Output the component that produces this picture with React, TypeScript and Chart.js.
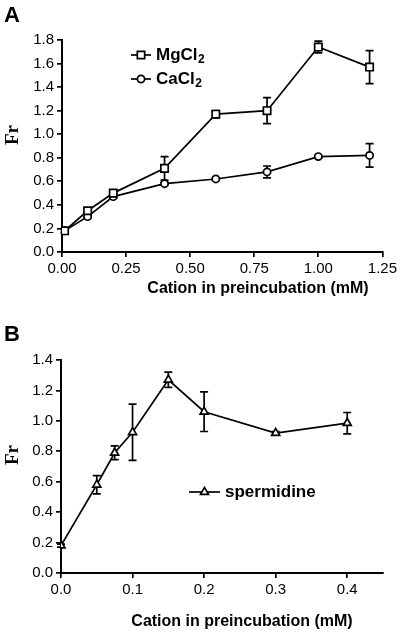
import React, { useEffect, useRef } from 'react';
import { Chart, registerables } from 'chart.js';

Chart.register(...registerables);

// Panel A
const mgX = [0.01, 0.1, 0.2, 0.4, 0.6, 0.8, 1.0, 1.2];
const mgY = [0.18, 0.35, 0.5, 0.71, 1.17, 1.2, 1.74, 1.57];
const mgErr = [0.02, 0.02, 0.02, 0.1, 0.03, 0.11, 0.05, 0.14];
const caX = [0.01, 0.1, 0.2, 0.4, 0.6, 0.8, 1.0, 1.2];
const caY = [0.18, 0.3, 0.47, 0.58, 0.62, 0.68, 0.81, 0.82];
const caErr = [0.01, 0.01, 0.01, 0.01, 0.01, 0.05, 0.01, 0.1];
const aXTicks = [0, 0.25, 0.5, 0.75, 1.0, 1.25];
const aYTicks = [0, 0.2, 0.4, 0.6, 0.8, 1.0, 1.2, 1.4, 1.6, 1.8];

// Panel B
const spX = [0, 0.05, 0.075, 0.1, 0.15, 0.2, 0.3, 0.4];
const spY = [0.18, 0.58, 0.79, 0.925, 1.27, 1.06, 0.92, 0.985];
const spErr = [0.01, 0.06, 0.045, 0.185, 0.05, 0.13, 0.01, 0.07];
const bXTicks = [0, 0.1, 0.2, 0.3, 0.4];
const bYTicks = [0, 0.2, 0.4, 0.6, 0.8, 1.0, 1.2, 1.4];

const SANS = '"Liberation Sans", Arial, sans-serif';
const SERIF = '"Liberation Serif", "Times New Roman", serif';
const LW = 1.7;

function toPoints(xs: number[], ys: number[]) {
  return xs.map((x, i) => ({ x, y: ys[i] }));
}

function drawMarker(ctx: CanvasRenderingContext2D, style: string, x: number, y: number, r: number) {
  ctx.beginPath();
  if (style === 'rect') {
    const s = Math.SQRT1_2 * r;
    ctx.rect(x - s, y - s, 2 * s, 2 * s);
  } else if (style === 'circle') {
    ctx.arc(x, y, r, 0, Math.PI * 2);
  } else if (style === 'triangle') {
    for (let k = 0; k < 3; k++) {
      const a = -Math.PI / 2 + (k * 2 * Math.PI) / 3;
      const px = x + Math.cos(a) * r;
      const py = y + Math.sin(a) * r;
      if (k === 0) ctx.moveTo(px, py);
      else ctx.lineTo(px, py);
    }
    ctx.closePath();
  }
  ctx.fillStyle = '#fff';
  ctx.fill();
  ctx.lineWidth = LW;
  ctx.strokeStyle = '#000';
  ctx.stroke();
}

const errorBarPlugin = {
  id: 'errorBars',
  beforeDatasetsDraw(chart: any) {
    const ctx = chart.ctx;
    const yScale = chart.scales.y;
    chart.data.datasets.forEach((ds: any, i: number) => {
      if (!ds.errors) return;
      const meta = chart.getDatasetMeta(i);
      meta.data.forEach((el: any, j: number) => {
        const v = ds.data[j].y;
        const e = ds.errors[j];
        const top = yScale.getPixelForValue(v + e);
        const bot = yScale.getPixelForValue(v - e);
        ctx.save();
        ctx.strokeStyle = '#000';
        ctx.lineWidth = LW;
        ctx.beginPath();
        ctx.moveTo(el.x, top);
        ctx.lineTo(el.x, bot);
        ctx.moveTo(el.x - 4, top);
        ctx.lineTo(el.x + 4, top);
        ctx.moveTo(el.x - 4, bot);
        ctx.lineTo(el.x + 4, bot);
        ctx.stroke();
        ctx.restore();
      });
    });
  },
};

type Deco = {
  letter: string;
  letterY: number;
  frY: number;
  titleX: number;
  titleY: number;
  legend: { style: string; r: number; x1: number; x2: number; y: number; text: string; sub: string; textX: number }[];
};

function decoPlugin(d: Deco) {
  return {
    id: 'deco',
    afterDraw(chart: any) {
      const ctx = chart.ctx as CanvasRenderingContext2D;
      ctx.save();
      ctx.fillStyle = '#000';
      ctx.textBaseline = 'middle';
      ctx.textAlign = 'left';
      ctx.font = `bold 22px ${SANS}`;
      ctx.fillText(d.letter, 4, d.letterY);

      ctx.save();
      ctx.translate(13, d.frY);
      ctx.rotate(-Math.PI / 2);
      ctx.textAlign = 'center';
      ctx.font = `bold 19px ${SERIF}`;
      ctx.fillText('Fr', 0, 0);
      ctx.restore();

      ctx.textAlign = 'center';
      ctx.font = `bold 16px ${SANS}`;
      ctx.fillText('Cation in preincubation (mM)', d.titleX, d.titleY);

      d.legend.forEach((l) => {
        ctx.strokeStyle = '#000';
        ctx.lineWidth = LW;
        ctx.beginPath();
        ctx.moveTo(l.x1, l.y);
        ctx.lineTo(l.x2, l.y);
        ctx.stroke();
        drawMarker(ctx, l.style, (l.x1 + l.x2) / 2, l.y, l.r);
        ctx.fillStyle = '#000';
        ctx.textAlign = 'left';
        ctx.font = `bold 17px ${SANS}`;
        ctx.fillText(l.text, l.textX, l.y);
        if (l.sub) {
          const w = ctx.measureText(l.text).width;
          ctx.font = `bold 12px ${SANS}`;
          ctx.fillText(l.sub, l.textX + w + 0.5, l.y + 5);
        }
      });
      ctx.restore();
    },
  };
}

function axisCommon(ticksList: number[], digits: number, min: number, max: number) {
  return {
    type: 'linear' as const,
    min,
    max,
    afterBuildTicks(scale: any) {
      scale.ticks = ticksList.map((v) => ({ value: v }));
    },
    ticks: {
      color: '#000',
      font: { family: SANS, size: 15 },
      padding: 3,
      autoSkip: false,
      maxRotation: 0,
      callback: (v: any) => Number(v).toFixed(digits),
    },
    grid: {
      display: true,
      drawOnChartArea: false,
      drawTicks: true,
      tickLength: 5,
      color: '#000',
      lineWidth: LW,
    },
    border: { display: true, color: '#000', width: 2 },
  };
}

function lineDataset(label: string, xs: number[], ys: number[], errs: number[], style: string, r: number) {
  return {
    label,
    data: toPoints(xs, ys),
    errors: errs,
    borderColor: '#000',
    borderWidth: LW,
    pointStyle: style,
    pointRadius: r,
    pointBackgroundColor: '#fff',
    pointBorderColor: '#000',
    pointBorderWidth: LW,
    tension: 0,
    fill: false,
  };
}

function PanelChart(props: {
  height: number;
  datasets: any[];
  xTicks: number[];
  yTicks: number[];
  xDigits: number;
  xMax: number;
  yMax: number;
  top: number;
  left: number;
  bottom: number;
  deco: Deco;
}) {
  const ref = useRef<HTMLCanvasElement | null>(null);
  useEffect(() => {
    const canvas = ref.current;
    if (!canvas) return;
    const xAxis: any = axisCommon(props.xTicks, props.xDigits, 0, props.xMax);
    xAxis.afterFit = (s: any) => {
      s.height = props.height - props.bottom;
    };
    const yAxis: any = axisCommon(props.yTicks, 1, 0, props.yMax);
    yAxis.afterFit = (s: any) => {
      s.width = props.left;
    };
    const chart = new Chart(canvas, {
      type: 'line',
      data: { datasets: props.datasets },
      options: {
        responsive: false,
        animation: false,
        maintainAspectRatio: false,
        layout: { padding: { top: props.top, right: 17, left: 0, bottom: 0 } },
        plugins: { legend: { display: false }, tooltip: { enabled: false } },
        scales: { x: xAxis, y: yAxis },
      },
      plugins: [errorBarPlugin, decoPlugin(props.deco)],
    } as any);
    return () => chart.destroy();
  }, []);
  return <canvas ref={ref} width={400} height={props.height} style={{ display: 'block', width: 400, height: props.height }} />;
}

export default function App() {
  const dsA = [
    lineDataset('MgCl2', mgX, mgY, mgErr, 'rect', 5.2),
    lineDataset('CaCl2', caX, caY, caErr, 'circle', 3.6),
  ];
  const dsB = [lineDataset('spermidine', spX, spY, spErr, 'triangle', 4.6)];
  return (
    <div style={{ position: 'absolute', left: 0, top: 0, width: 400, height: 635, background: '#fff' }}>
      <PanelChart
        height={318}
        datasets={dsA}
        xTicks={aXTicks}
        yTicks={aYTicks}
        xDigits={2}
        xMax={1.25}
        yMax={1.8}
        top={40}
        left={62}
        bottom={252}
        deco={{
          letter: 'A',
          letterY: 16,
          frY: 135,
          titleX: 258,
          titleY: 289,
          legend: [
            { style: 'rect', r: 5.2, x1: 131, x2: 151, y: 55, text: 'MgCl', sub: '2', textX: 156 },
            { style: 'circle', r: 3.6, x1: 131, x2: 151, y: 79, text: 'CaCl', sub: '2', textX: 156 },
          ],
        }}
      />
      <PanelChart
        height={317}
        datasets={dsB}
        xTicks={bXTicks}
        yTicks={bYTicks}
        xDigits={1}
        xMax={0.45}
        yMax={1.4}
        top={42}
        left={61}
        bottom={255}
        deco={{
          letter: 'B',
          letterY: 17,
          frY: 137,
          titleX: 242,
          titleY: 304,
          legend: [{ style: 'triangle', r: 4.6, x1: 189, x2: 220, y: 174, text: 'spermidine', sub: '', textX: 225 }],
        }}
      />
    </div>
  );
}
